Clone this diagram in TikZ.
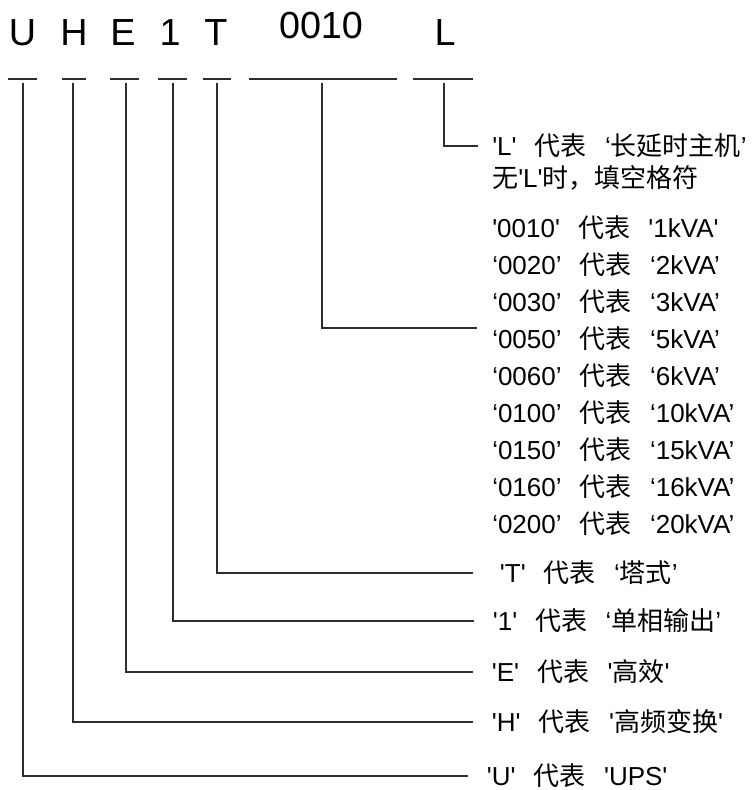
\documentclass[tikz,border=0pt]{standalone}
\usepackage{fontspec}
\usepackage{tikz}
\setmainfont{Liberation Sans}[Ligatures=TeXOff]
\newfontfamily\cjk{Noto Sans CJK SC}
\definecolor{ln}{RGB}{45, 45, 45}
\newcommand{\zh}[1]{{\cjk #1}}
\newcommand{\gp}{\hspace{0.7em}}

\begin{document}
\begin{tikzpicture}[x=0.75pt, y=-0.75pt,
  code/.style={anchor=base, inner sep=0pt, font=\fontsize{28.3}{34}\selectfont},
  lbl/.style={anchor=west, inner xsep=14pt, inner ysep=0pt, font=\fontsize{19.5}{23}\selectfont},
  row/.style={anchor=west, inner sep=0pt, font=\fontsize{19.5}{23}\selectfont},
  bar/.style={line width=0.8pt, color=ln},
  conn/.style={line width=0.8pt, color=ln}]
\useasboundingbox (0,0) rectangle (754,790);
% code letters
\node (U) [code] at (22.5, 45) {U};
\node (H) [code] at (74, 45) {H};
\node (E) [code] at (123, 45) {E};
\node (1) [code] at (170, 45) {1};
\node (T) [code] at (216, 45) {T};
\node (kva) [code] at (321, 38) {0010};
\node (L) [code] at (445, 45) {L};
% underlines
\draw [bar] (8, 79) -- (37, 79);
\draw [bar] (62, 79) -- (86, 79);
\draw [bar] (110, 79) -- (139, 79);
\draw [bar] (158, 79) -- (187, 79);
\draw [bar] (203, 79) -- (231, 79);
\draw [bar] (249, 79) -- (397, 79);
\draw [bar] (413, 79) -- (473, 79);
\coordinate (tU) at (23, 83);
\coordinate (tH) at (73, 83);
\coordinate (tE) at (126, 83);
\coordinate (t1) at (173, 83);
\coordinate (tT) at (217, 83);
\coordinate (tkva) at (322, 83);
\coordinate (tL) at (444, 83);
\coordinate (kEnd) at (477, 328);
% labels
\node (lL) [lbl, inner xsep=10.5pt] at (478, 146) {'L'\gp\zh{代表}\gp‘\zh{长延时主机}’};
\node (lL2) [row] at (492, 178) {\zh{无}'L'\zh{时，填空格符}};
\node (k1) [row] at (492, 228) {'0010'\gp\zh{代表}\gp'1kVA'};
\node (k2) [row] at (492, 265) {‘0020’\gp\zh{代表}\gp‘2kVA’};
\node (k3) [row] at (492, 302) {‘0030’\gp\zh{代表}\gp‘3kVA’};
\node (k4) [row] at (492, 339) {‘0050’\gp\zh{代表}\gp‘5kVA’};
\node (k5) [row] at (492, 376) {‘0060’\gp\zh{代表}\gp‘6kVA’};
\node (k6) [row] at (492, 413) {‘0100’\gp\zh{代表}\gp‘10kVA’};
\node (k7) [row] at (492, 450) {‘0150’\gp\zh{代表}\gp‘15kVA’};
\node (k8) [row] at (492, 487) {‘0160’\gp\zh{代表}\gp‘16kVA’};
\node (k9) [row] at (492, 524) {‘0200’\gp\zh{代表}\gp‘20kVA’};
\node (lT) [lbl, inner xsep=20pt] at (473, 573) {'T'\gp\zh{代表}\gp‘\zh{塔式}’};
\node (l1) [lbl] at (474, 621) {'1'\gp\zh{代表}\gp‘\zh{单相输出}’};
\node (lE) [lbl] at (473, 672) {'E'\gp\zh{代表}\gp'\zh{高效}'};
\node (lH) [lbl] at (473, 722) {'H'\gp\zh{代表}\gp'\zh{高频变换}'};
\node (lU) [lbl] at (468, 776) {'U'\gp\zh{代表}\gp'UPS'};
% connectors
\draw [conn] (tL) |- (lL);
\draw [conn] (tkva) |- (kEnd);
\draw [conn] (tT) |- (lT);
\draw [conn] (t1) |- (l1);
\draw [conn] (tE) |- (lE);
\draw [conn] (tH) |- (lH);
\draw [conn] (tU) |- (lU);
\end{tikzpicture}
\end{document}
